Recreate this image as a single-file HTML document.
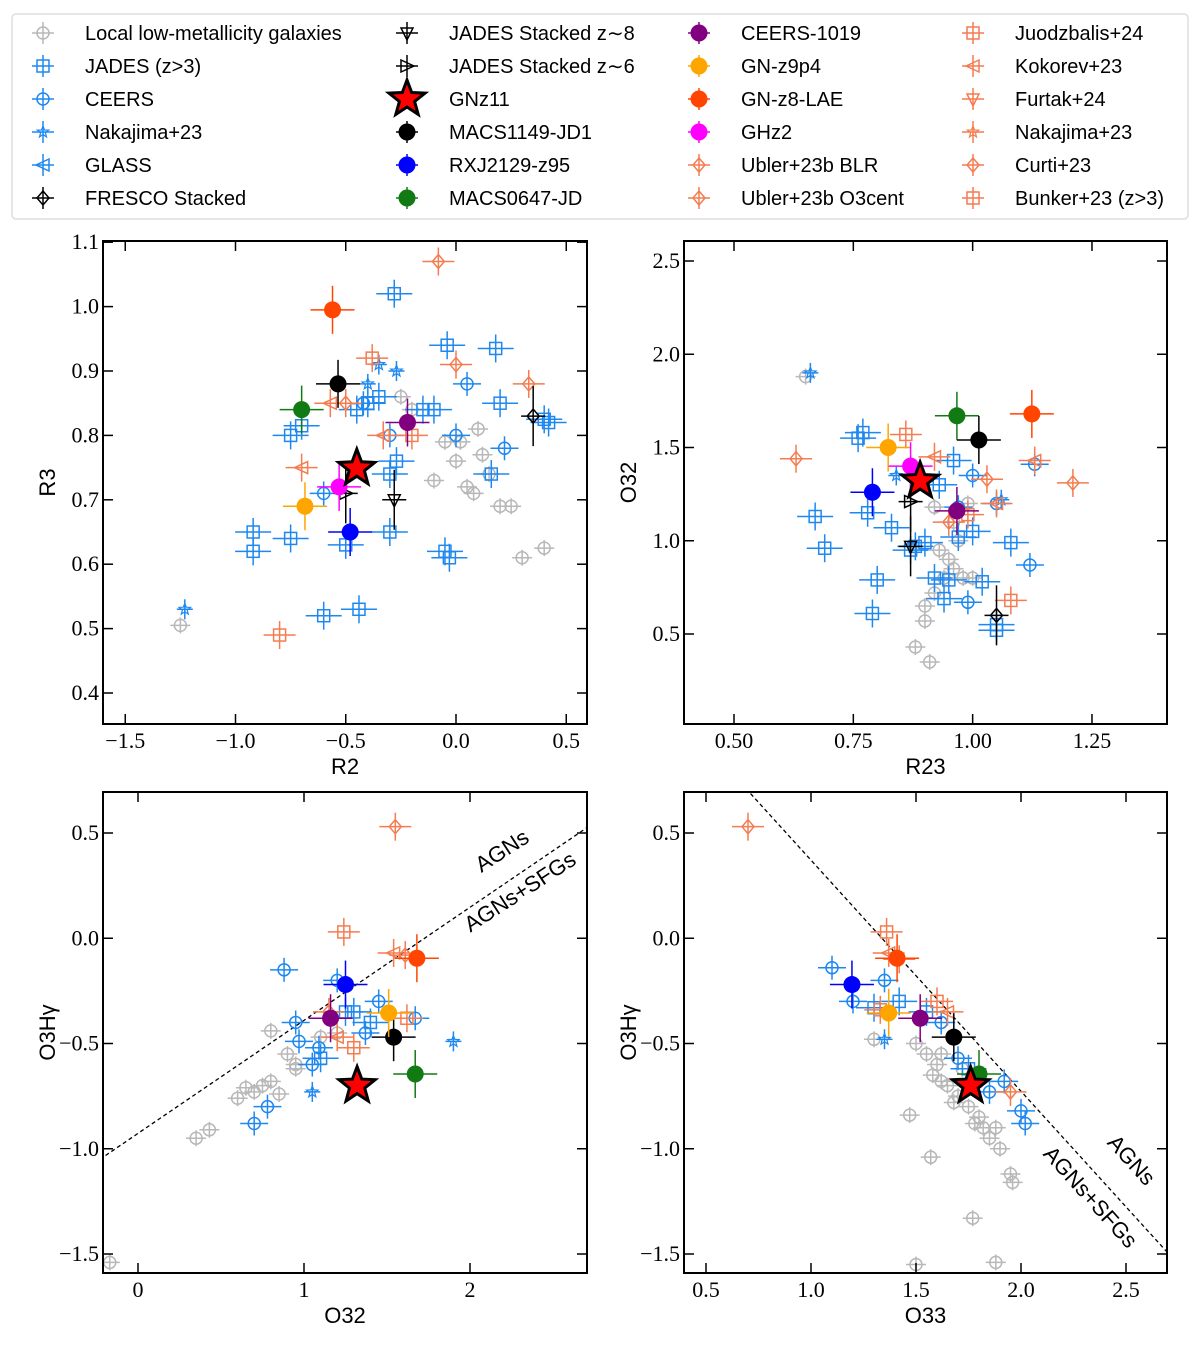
<!DOCTYPE html>
<html><head><meta charset="utf-8"><style>
body{margin:0;background:#fff}
svg text{font-family:"Liberation Sans",sans-serif}
.tk{font-family:"Liberation Serif",serif;font-size:22px}
</style></head><body>
<svg id="c" width="1200" height="1341" xmlns="http://www.w3.org/2000/svg"></svg>
<script>
const GREY='#b8b8b8',BLUE='#1e88f0',OR='#f47c50';
// Panel 1: R2 vs R3
const p1Grey=[[-0.05,0.79],[0,0.76],[0.05,0.72],[0.1,0.81],[0.15,0.74],[-0.1,0.73],[0.2,0.69],[0.25,0.69],[0.3,0.61],[0.4,0.625],[0.12,0.77],[0.02,0.79],[-0.2,0.84],[-0.25,0.86],[0.08,0.71],[-1.25,0.505]];
const p1Jades=[[-0.28,1.02],[-0.04,0.94],[0.18,0.935],[0.2,0.85],[0.16,0.74],[-0.75,0.8],[-0.7,0.815],[-0.92,0.65],[-0.92,0.62],[-0.75,0.64],[-0.5,0.63],[-0.3,0.65],[-0.4,0.85],[-0.45,0.84],[-0.3,0.74],[-0.27,0.76],[-0.05,0.62],[-0.03,0.61],[-0.6,0.52],[-0.44,0.53],[0.4,0.825],[0.42,0.82],[-0.35,0.86],[-0.15,0.84],[-0.1,0.84]];
const p1Ceers=[[0.05,0.88],[0,0.8],[0.22,0.78],[-0.3,0.8],[-0.42,0.85],[-0.6,0.71]];
const p1Nak=[[-1.23,0.53],[-0.35,0.91],[-0.4,0.88],[-0.27,0.9]];
const p1Or=[[-0.08,1.07],[-0.38,0.92],[-0.57,0.85],[-0.5,0.85],[-0.2,0.8],[-0.7,0.75],[0.33,0.88],[-0.8,0.49],[-0.33,0.8],[0,0.91]];
const p1Black=[[0.35,0.83],[-0.28,0.70],[-0.5,0.71]];
const p1Named=[[-0.70,0.84],[-0.535,0.88],[-0.48,0.65],[-0.22,0.82],[-0.685,0.69],[-0.56,0.995],[-0.53,0.72],[-0.45,0.749]];
// Panel 2: R23 vs O32
const p2Grey=[[0.65,1.88],[0.91,0.35],[0.88,0.43],[0.9,0.57],[0.9,0.65],[0.92,0.72],[0.94,0.8],[0.96,0.85],[0.98,0.8],[1.0,0.8],[0.95,0.9],[0.93,0.95],[0.97,1.0],[0.99,1.2],[0.96,1.1],[0.92,1.18]];
const p2Jades=[[0.67,1.13],[0.69,0.96],[0.76,1.55],[0.77,1.58],[0.78,1.15],[0.8,0.79],[0.79,0.61],[0.83,1.07],[0.87,0.95],[0.88,0.97],[0.9,0.99],[0.92,0.8],[0.94,0.69],[0.95,0.79],[0.97,1.02],[1.0,1.05],[1.05,0.55],[1.05,0.52],[1.08,0.99],[1.02,0.78],[0.93,1.3],[0.96,1.43]];
const p2Ceers=[[1.13,1.41],[1.12,0.87],[0.99,0.67],[1.0,1.35],[0.97,1.18],[1.05,1.2]];
const p2Nak=[[0.66,1.9],[1.06,1.22],[0.84,1.35]];
const p2Or=[[0.63,1.44],[0.86,1.57],[1.13,1.43],[1.21,1.31],[1.08,0.68],[0.92,1.45],[0.95,1.1],[0.99,1.14],[1.05,1.2],[1.03,1.33]];
const p2Black=[[1.05,0.6],[0.87,0.97],[0.87,1.21]];
const p2Named=[[0.967,1.67],[1.013,1.54],[0.79,1.26],[0.967,1.16],[0.823,1.50],[1.124,1.68],[0.87,1.40],[0.89,1.32]];
// Panel 3: O32 vs O3Hg
const p3Grey=[[0.35,-0.95],[0.43,-0.91],[0.6,-0.76],[0.65,-0.71],[0.7,-0.73],[0.75,-0.7],[0.8,-0.68],[0.85,-0.74],[0.95,-0.6],[0.95,-0.62],[0.8,-0.44],[0.9,-0.55],[1.1,-0.47],[1.2,-0.45],[-0.17,-1.54]];
const p3Jades=[[1.25,-0.35],[1.3,-0.35],[1.4,-0.4],[1.1,-0.57]];
const p3Ceers=[[0.88,-0.15],[0.95,-0.4],[0.97,-0.49],[0.7,-0.88],[0.78,-0.8],[1.05,-0.6],[1.09,-0.52],[1.2,-0.2],[1.45,-0.3],[1.67,-0.38],[1.37,-0.45]];
const p3Nak=[[1.9,-0.49],[1.05,-0.73]];
const p3Or=[[1.55,0.53],[1.24,0.03],[1.54,-0.07],[1.61,-0.08],[1.3,-0.52],[1.2,-0.47],[1.15,-0.35],[1.62,-0.38]];
const p3Named=[[1.67,-0.645],[1.54,-0.47],[1.25,-0.22],[1.16,-0.38],[1.51,-0.355],[1.68,-0.095],null,[1.32,-0.70]];
// Panel 4: O33 vs O3Hg
const p4Grey=[[1.5,-0.5],[1.55,-0.55],[1.6,-0.6],[1.62,-0.68],[1.65,-0.7],[1.7,-0.75],[1.72,-0.62],[1.75,-0.8],[1.8,-0.85],[1.82,-0.9],[1.85,-0.95],[1.88,-0.9],[1.9,-1.0],[1.95,-1.12],[1.96,-1.16],[1.78,-0.88],[1.68,-0.78],[1.58,-0.65],[1.5,-1.55],[1.77,-1.33],[1.88,-1.54],[1.47,-0.84],[1.57,-1.04],[1.3,-0.48],[1.62,-0.55]];
const p4Jades=[[1.3,-0.33],[1.42,-0.3],[1.55,-0.35],[1.75,-0.62]];
const p4Ceers=[[1.1,-0.14],[1.2,-0.3],[1.62,-0.4],[1.7,-0.57],[1.85,-0.73],[2.0,-0.82],[2.02,-0.88],[1.92,-0.68],[1.35,-0.2]];
const p4Nak=[[1.35,-0.48]];
const p4Or=[[0.7,0.53],[1.36,0.03],[1.37,-0.07],[1.42,-0.1],[1.33,-0.34],[1.65,-0.35],[1.95,-0.73],[1.6,-0.3]];
const p4Named=[[1.80,-0.645],[1.68,-0.47],[1.195,-0.22],[1.52,-0.38],[1.37,-0.355],[1.41,-0.095],null,[1.76,-0.70]];
const namedColors=['#127a12','#000','#0000ff','#800080','#ffa500','#ff4500','#ff00ff','#ff0000'];

const svg=document.getElementById('c');
const NS='http://www.w3.org/2000/svg';
function mk(tag,attrs,parent){const e=document.createElementNS(NS,tag);for(const k in attrs)e.setAttribute(k,attrs[k]);(parent||svg).appendChild(e);return e;}
function starPts(cx,cy,R){let p=[];for(let i=0;i<10;i++){const r=i%2?R*0.42:R;const a=-Math.PI/2+i*Math.PI/5;p.push((cx+r*Math.cos(a)).toFixed(1)+','+(cy+r*Math.sin(a)).toFixed(1));}return p.join(' ');}
function marker(g,type,x,y,col,ex,ey){
  if(ex!==0){mk('line',{x1:x-ex,y1:y,x2:x+ex,y2:y,stroke:col,'stroke-width':1.5},g);mk('line',{x1:x,y1:y-ey,x2:x,y2:y+ey,stroke:col,'stroke-width':1.5},g);}
  const s=6;
  if(type==='sq'){mk('rect',{x:x-s,y:y-s,width:2*s,height:2*s,fill:'none',stroke:col,'stroke-width':1.5},g);}
  else if(type==='ci'){mk('circle',{cx:x,cy:y,r:s,fill:'none',stroke:col,'stroke-width':1.5},g);}
  else if(type==='st'){mk('polygon',{points:starPts(x,y,6),fill:'none',stroke:col,'stroke-width':1.2},g);}
  else if(type==='di'){mk('polygon',{points:`${x},${y-7} ${x+6},${y} ${x},${y+7} ${x-6},${y}`,fill:'none',stroke:col,'stroke-width':1.5},g);}
  else if(type==='tl'){mk('polygon',{points:`${x-7},${y} ${x+6},${y-6} ${x+6},${y+6}`,fill:'none',stroke:col,'stroke-width':1.5},g);}
  else if(type==='tr'){mk('polygon',{points:`${x+7},${y} ${x-6},${y-6} ${x-6},${y+6}`,fill:'none',stroke:col,'stroke-width':1.5},g);}
  else if(type==='td'){mk('polygon',{points:`${x},${y+7} ${x-6},${y-5} ${x+6},${y-5}`,fill:'none',stroke:col,'stroke-width':1.5},g);}
  else if(type==='dot'){mk('circle',{cx:x,cy:y,r:8.5,fill:col},g);}
  else if(type==='big'){mk('polygon',{points:starPts(x,y,19),fill:'#ff0000',stroke:'#000','stroke-width':3,'stroke-linejoin':'miter'},g);}
}
function panel(cfg){
  const {name,x0,x1,y0,y1,sx,sy,xt,yt,xlab,ylab,fmt}=cfg;
  const g=mk('g',{});
  
  
  const X=v=>sx[0]+(v-sx[1])*sx[2], Y=v=>sy[0]-(v-sy[1])*sy[2];
  const clip=mk('clipPath',{id:'cl'+name},g);mk('rect',{x:x0,y:y0,width:x1-x0,height:y1-y0},clip);
  const d=mk('g',{'clip-path':`url(#cl${name})`},g);
  if(cfg.line){const L=cfg.line;const ln=mk('line',{x1:X(L[0]),y1:Y(L[1]*L[0]+L[2]),x2:X(L[3]),y2:Y(L[1]*L[3]+L[2]),stroke:'#000','stroke-width':1.3,'stroke-dasharray':'4,3'},d);}
  const series=[[cfg.grey,'ci',GREY,10,8],[cfg.jades,'sq',BLUE,18,14],[cfg.ceers,'ci',BLUE,14,12],[cfg.nak,'st',BLUE,8,10],[cfg.or,'di',OR,16,14]];
  series.forEach(([arr,t,c,ex,ey],si)=>{arr.forEach((p,i)=>{const sg=mk('g',{},d);marker(sg,(si===4&&i%3===1)?'sq':(si===4&&i%3===2?'tl':t),X(p[0]),Y(p[1]),c,ex,ey);});});
  (cfg.black||[]).forEach((p,i)=>{const sg=mk('g',{},d);marker(sg,i===0?'di':(i===1?'td':'tr'),X(p[0]),Y(p[1]),'#000',12,30);});
  cfg.named.forEach((p,i)=>{if(!p)return;const sg=mk('g',{},d);marker(sg,i===7?'big':'dot',X(p[0]),Y(p[1]),namedColors[i],i===7?0:22,i===7?0:24);});
  mk('rect',{x:x0,y:y0,width:x1-x0,height:y1-y0,fill:'none',stroke:'#000','stroke-width':2},g);
  xt.forEach(v=>{const px=X(v);mk('line',{x1:px,y1:y1,x2:px,y2:y1-10,stroke:'#000','stroke-width':1.5},g);mk('line',{x1:px,y1:y0,x2:px,y2:y0+10,stroke:'#000','stroke-width':1.5},g);
    const t=mk('text',{x:px,y:y1+24,'text-anchor':'middle',class:'tk'},g);t.textContent=fmt(v,cfg.xd);});
  yt.forEach(v=>{const py=Y(v);mk('line',{x1:x0,y1:py,x2:x0+10,y2:py,stroke:'#000','stroke-width':1.5},g);mk('line',{x1:x1,y1:py,x2:x1-10,y2:py,stroke:'#000','stroke-width':1.5},g);
    const t=mk('text',{x:x0-4,y:py+7,'text-anchor':'end',class:'tk'},g);t.textContent=fmt(v,cfg.yd);});
  const xl=mk('text',{x:(x0+x1)/2,y:y1+50,'text-anchor':'middle','font-size':22},g);xl.textContent=xlab;
  const yl=mk('text',{x:0,y:0,'text-anchor':'middle','font-size':22,transform:`translate(${x0-48},${(y0+y1)/2}) rotate(-90)`},g);yl.textContent=ylab;
  (cfg.notes||[]).forEach(n=>{const t=mk('text',{x:0,y:0,'font-size':22,'text-anchor':'middle',transform:`translate(${n[0]},${n[1]}) rotate(${n[2]})`},g);t.textContent=n[3];});
}
const fmt=(v,d)=>{const s=Math.abs(v).toFixed(d);return (v<0?'\u2212':'')+s;};
const r=(a,b,s)=>{let o=[];for(let v=a;v<=b+1e-9;v+=s)o.push(+v.toFixed(3));return o;};
panel({name:'panel-r2-r3',x0:103,x1:587,y0:241,y1:724,sx:[456,0,220.5],sy:[693,0.4,644],xt:r(-1.5,0.5,0.5),yt:r(0.4,1.1,0.1),xd:1,yd:1,fmt,xlab:'R2',ylab:'R3',grey:p1Grey,jades:p1Jades,ceers:p1Ceers,nak:p1Nak,or:p1Or,black:p1Black,named:p1Named});
panel({name:'panel-r23-o32',x0:684,x1:1167,y0:241,y1:724,sx:[734,0.5,477.3],sy:[634,0.5,186.5],xt:r(0.5,1.25,0.25),yt:r(0.5,2.5,0.5),xd:2,yd:1,fmt,xlab:'R23',ylab:'O32',grey:p2Grey,jades:p2Jades,ceers:p2Ceers,nak:p2Nak,or:p2Or,black:p2Black,named:p2Named});
panel({name:'panel-o32-o3hg',x0:103,x1:587,y0:792,y1:1273,sx:[138,0,166],sy:[833,0.5,210.5],xt:[0,1,2],yt:r(-1.5,0.5,0.5),xd:0,yd:1,fmt,xlab:'O32',ylab:'O3H\u03b3',grey:p3Grey,jades:p3Jades,ceers:p3Ceers,nak:p3Nak,or:p3Or,named:p3Named,line:[-0.3,0.537,-0.927,2.9],notes:[[506,857,-33,'AGNs'],[524,898,-33,'AGNs+SFGs']]});
panel({name:'panel-o33-o3hg',x0:684,x1:1167,y0:792,y1:1273,sx:[706,0.5,210],sy:[833,0.5,210.5],xt:r(0.5,2.5,0.5),yt:r(-1.5,0.5,0.5),xd:1,yd:1,fmt,xlab:'O33',ylab:'O3H\u03b3',grey:p4Grey,jades:p4Jades,ceers:p4Ceers,nak:p4Nak,or:p4Or,named:p4Named,line:[0.6,-1.098,1.469,2.9],notes:[[1126,1165,48,'AGNs'],[1085,1202,48,'AGNs+SFGs']]});

// Legend
const legNames=['Local low-metallicity galaxies','JADES (z>3)','CEERS','Nakajima+23','GLASS','FRESCO Stacked','JADES Stacked z\u223c8','JADES Stacked z\u223c6','GNz11','MACS1149-JD1','RXJ2129-z95','MACS0647-JD','CEERS-1019','GN-z9p4','GN-z8-LAE','GHz2','Ubler+23b BLR','Ubler+23b O3cent','Juodzbalis+24','Kokorev+23','Furtak+24','Nakajima+23','Curti+23','Bunker+23 (z>3)'];
const legTypes=[['ci',GREY],['sq',BLUE],['ci',BLUE],['st',BLUE],['tl',BLUE],['di','#000'],['td','#000'],['tr','#000'],['big','#f00'],['dot','#000'],['dot','#0000ff'],['dot','#127a12'],['dot','#800080'],['dot','#ffa500'],['dot','#ff4500'],['dot','#ff00ff'],['di',OR],['di',OR],['sq',OR],['tl',OR],['td',OR],['st',OR],['di',OR],['sq',OR]];
const lg=mk('g',{});


mk('rect',{x:12,y:14,width:1176,height:205,rx:4,fill:'#fff',stroke:'#ddd','stroke-width':1.5},lg);
const colX=[43,407,699,973];
legNames.forEach((n,i)=>{const c=Math.floor(i/6),rr=i%6;const y=33+rr*33;
  const e=mk('g',{},lg);
  marker(e,legTypes[i][0],colX[c],y,legTypes[i][1],legTypes[i][0]==='big'?0:11,11);
  const t=mk('text',{x:colX[c]+42,y:y+7,'font-size':20},e);t.textContent=n;});
</script>
</body></html>
